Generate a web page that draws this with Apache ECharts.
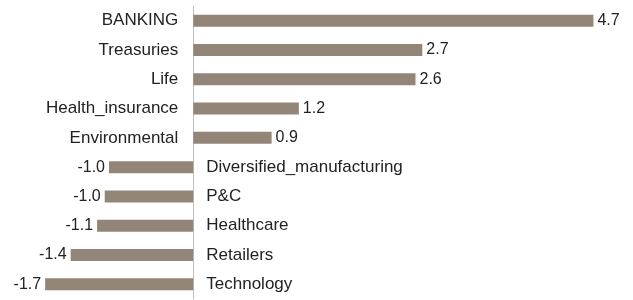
<!DOCTYPE html>
<html>
<head>
<meta charset="utf-8">
<script src="https://cdn.jsdelivr.net/npm/echarts@6/dist/echarts.min.js"></script>
<style>
  html, body { margin: 0; padding: 0; background: #fff; }
  #chart { width: 633px; height: 300px; }
</style>
</head>
<body>
<div id="chart"></div>
<script>
const categories = ['BANKING', 'Treasuries', 'Life', 'Health_insurance', 'Environmental',
  'Diversified_manufacturing', 'P&C', 'Healthcare', 'Retailers', 'Technology'];
const values = [4.7, 2.69, 2.61, 1.24, 0.92, -0.99, -1.04, -1.13, -1.44, -1.74];

const font = '"Liberation Sans", Arial, sans-serif';
const barColor = '#948579';

const chart = echarts.init(document.getElementById('chart'));

const valueData = values.map(v => ({
  value: v,
  label: { position: v >= 0 ? 'right' : 'left', distance: 4 }
}));
const nameData = values.map((v, i) => ({
  value: v,
  label: {
    position: v >= 0 ? 'left' : 'right',
    distance: v >= 0 ? 15 : 13,
    formatter: () => categories[i]
  }
}));

chart.setOption({
  animation: false,
  grid: { left: 23, right: 14, top: 6, bottom: 1 },
  xAxis: {
    type: 'value', min: -2, max: 5, show: false
  },
  yAxis: {
    type: 'category',
    data: categories,
    inverse: true,
    axisLine: { onZero: true, lineStyle: { color: '#c0c0c0', width: 1 } },
    axisTick: { show: false },
    axisLabel: { show: false }
  },
  series: [
    {
      type: 'bar',
      data: valueData,
      barWidth: 12,
      itemStyle: { color: barColor },
      label: {
        show: true,
        fontFamily: font,
        fontSize: 16,
        color: '#222',
        formatter: p => p.value.toFixed(1)
      }
    },
    {
      type: 'bar',
      data: nameData,
      barWidth: 12,
      barGap: '-100%',
      itemStyle: { color: 'transparent' },
      label: {
        show: true,
        fontFamily: font,
        fontSize: 17,
        color: '#222'
      }
    }
  ]
});
</script>
</body>
</html>
